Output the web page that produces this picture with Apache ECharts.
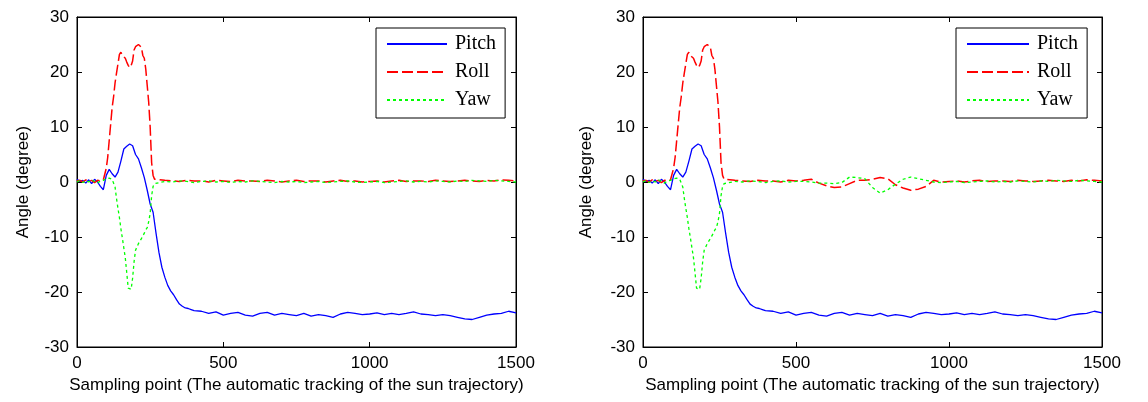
<!DOCTYPE html>
<html>
<head>
<meta charset="utf-8">
<script src="https://cdn.jsdelivr.net/npm/echarts@6/dist/echarts.min.js"></script>
<style>
  html, body { margin: 0; padding: 0; background: #fff; }
  #chart { width: 1148px; height: 402px; }
</style>
</head>
<body>
<div id="chart"></div>
<script>
// 采样点（俯仰角单独一组，横滚/偏航共用一组）
var pitchX = [0,10,20,30,40,50,60,70,80,90,100,110,120,130,140,150,160,170,180,190,200,
  210,220,230,240,250,260,270,280,290,300,310,320,330,340,350,360,370,380,390,400,
  425,450,475,500,525,550,575,600,625,650,675,700,725,750,775,800,825,850,875,900,
  925,950,975,1000,1025,1050,1075,1100,1125,1150,1175,1200,1225,1250,1275,1300,1325,
  1350,1375,1400,1425,1450,1475,1500];
var pitch = [0.5,0.1,0.3,-0.2,0.4,-0.3,0.5,0.0,-0.8,-1.4,1.2,2.3,1.5,0.9,1.8,3.8,6.0,6.5,6.9,6.6,5.0,
  4.2,2.6,0.8,-1.5,-4.0,-5.5,-9.3,-12.8,-15.5,-17.3,-18.8,-19.8,-20.5,-21.4,-22.2,-22.6,-22.9,-23.0,-23.2,-23.4,
  -23.5,-23.9,-23.6,-24.2,-23.9,-23.7,-24.2,-24.4,-23.9,-23.7,-24.2,-23.9,-24.1,-24.3,-23.9,-24.4,-24.1,-24.3,-24.6,-24.0,
  -23.7,-23.9,-24.1,-24.0,-23.8,-24.1,-23.9,-24.1,-23.9,-23.6,-24.0,-24.1,-24.3,-24.1,-24.3,-24.6,-24.9,
  -25.0,-24.6,-24.2,-24.0,-23.9,-23.5,-23.8];

var sampleX = [0,10,20,30,40,50,60,70,80,90,
  95,100,105,110,115,120,125,130,135,140,145,150,155,160,165,170,175,180,185,190,
  195,200,205,210,215,220,225,230,235,240,245,250,255,260,265,270,
  300,325,350,375,400,425,450,475,500,525,550,575,600,625,650,675,700,725,750,
  775,800,825,850,875,900,925,950,975,1000,1025,1050,1075,1100,1125,1150,1175,1200,1225,1250,
  1275,1300,1325,1350,1375,1400,1425,1450,1475,1500];

var rollEarly = [0.2,0.3,0.0,0.4,0.1,0.3,-0.1,0.3,0.2,0.4,
  0.6,2.5,4.5,7.5,10.5,13.5,15.5,18.0,19.8,21.5,23.2,23.6,23.0,23.2,22.5,21.8,21.2,20.8,21.2,22.0,
  24.0,24.6,24.3,25.0,25.0,24.5,23.0,22.5,20.5,17.5,14.5,10.0,3.5,1.2,0.5,0.3];
var rollLateLeft = [0.3,0.2,0.1,0.3,0.2,0.2,0.0,0.3,0.2,0.1,0.3,0.2,0.2,0.1,0.3,0.2,0.0,0.2,0.3,
  0.1,0.2,0.2,0.0,0.2,0.3,0.1,0.2,0.0,0.1,0.2,0.0,0.2,0.3,0.1,0.2,0.2,0.1,0.3,0.2,
  0.1,0.2,0.3,0.2,0.1,0.3,0.2,0.4,0.3,0.2];
var rollLateRight = [0.3,0.2,0.1,0.3,0.2,0.2,0.0,0.3,0.2,0.3,0.5,-0.2,-0.7,-1.0,-0.9,-0.3,0.3,0.3,0.5,
  0.8,0.6,-0.5,-1.1,-1.5,-1.3,-0.8,0.3,0.0,0.1,0.2,0.0,0.2,0.3,0.1,0.2,0.2,0.1,0.3,0.2,
  0.1,0.2,0.3,0.2,0.1,0.3,0.2,0.4,0.3,0.2];

var yawEarly = [0.0,0.3,-0.1,0.2,0.0,0.4,0.1,-0.2,0.2,0.3,
  0.5,0.6,0.5,0.7,0.6,0.5,0.2,-0.9,-3.0,-4.8,-6.5,-8.5,-10.2,-12.0,-13.8,-16.5,-19.3,-19.6,-19.5,-17.5,
  -14.5,-12.4,-11.8,-11.2,-10.9,-10.3,-9.8,-9.3,-8.7,-8.3,-7.2,-5.7,-2.5,-0.8,-0.3,0.0];
var yawLateLeft = [0.1,0.0,0.2,0.1,-0.1,0.1,0.2,0.0,0.1,-0.1,0.1,0.0,0.2,0.1,0.0,-0.1,0.1,0.0,0.1,
  -0.1,0.0,0.1,-0.1,0.0,0.1,0.2,0.0,-0.1,0.0,0.1,-0.1,0.0,0.1,0.2,0.0,0.1,0.0,0.2,0.1,
  0.0,0.2,0.1,0.3,0.2,0.1,0.3,0.2,0.1,0.0];
var yawLateRight = [0.1,0.0,0.2,0.1,-0.1,0.1,0.2,0.0,0.1,0.1,0.0,-0.2,-0.2,-0.3,-0.1,0.9,0.8,0.6,-1.0,
  -2.0,-1.4,-0.4,0.5,0.9,0.6,0.3,0.0,-0.1,0.0,0.1,-0.1,0.0,0.1,0.2,0.0,0.1,0.0,0.2,0.1,
  0.0,0.2,0.1,0.3,0.2,0.1,0.3,0.2,0.1,0.0];

var xTicks = { min: 0, max: 1500, interval: 500 };
var yTicks = { min: -30, max: 30, interval: 10 };
var legendNames = ['Pitch', 'Roll', 'Yaw'];

function pairs(xs, ys) {
  var out = [];
  for (var i = 0; i < xs.length; i++) out.push([xs[i], ys[i]]);
  return out;
}

var dom = document.getElementById('chart');
var myChart = echarts.init(dom, null, { renderer: 'canvas' });

var sans = 'Liberation Sans, Arial, sans-serif';
var axisBase = {
  axisLine: { show: true, onZero: false, lineStyle: { color: '#000', width: 1 } },
  axisTick: { show: true, inside: true, length: 5, lineStyle: { color: '#000' } },
  splitLine: { show: false }
};

function xAxisFor(grid, pos, name) {
  return Object.assign({}, axisBase, {
    type: 'value', gridIndex: grid, position: pos,
    min: xTicks.min, max: xTicks.max, interval: xTicks.interval,
    name: name || '', nameLocation: 'middle', nameGap: 27,
    nameTextStyle: { fontFamily: sans, fontSize: 17, color: '#000' },
    axisLabel: {
      show: pos === 'bottom', margin: 8, fontFamily: sans, fontSize: 17, color: '#000',
      formatter: function (v) { return String(v); }
    }
  });
}
function yAxisFor(grid, pos, gap) {
  return Object.assign({}, axisBase, {
    type: 'value', gridIndex: grid, position: pos,
    min: yTicks.min, max: yTicks.max, interval: yTicks.interval,
    name: pos === 'left' ? 'Angle (degree)' : '', nameLocation: 'middle', nameGap: gap,
    nameTextStyle: { fontFamily: sans, fontSize: 17, color: '#000' },
    axisLabel: { show: pos === 'left', margin: 8, fontFamily: sans, fontSize: 17, color: '#000' }
  });
}

function lineSeries(name, data, xi, yi, color, type, w) {
  return {
    name: name, type: 'line', data: data, xAxisIndex: xi, yAxisIndex: yi,
    symbol: 'none', showSymbol: false, animation: false,
    itemStyle: { color: color },
    lineStyle: { color: color, width: w, type: type }
  };
}

function legendAt(left, iconW) {
  return {
    orient: 'vertical', left: left, top: 28,
    padding: [6, 9, 8, 10], itemWidth: iconW, itemHeight: 14, itemGap: 8,
    borderColor: '#000', borderWidth: 1, backgroundColor: '#fff',
    itemStyle: { opacity: 0 },
    textStyle: { fontFamily: 'Liberation Serif, Times New Roman, serif', fontSize: 20, color: '#000', padding: [0, 0, 0, 3] },
    data: legendNames
  };
}

var xName = 'Sampling point (The automatic tracking of the sun trajectory)';

var option = {
  backgroundColor: '#fff',
  animation: false,
  grid: [
    { left: 77, top: 17, width: 439, height: 330, show: true, borderColor: '#000', borderWidth: 1 },
    { left: 643, top: 17, width: 459, height: 330, show: true, borderColor: '#000', borderWidth: 1 }
  ],
  xAxis: [xAxisFor(0, 'bottom', xName), xAxisFor(0, 'top'), xAxisFor(1, 'bottom', xName), xAxisFor(1, 'top')],
  yAxis: [yAxisFor(0, 'left', 45), yAxisFor(0, 'right', 0), yAxisFor(1, 'left', 48), yAxisFor(1, 'right', 0)],
  legend: [legendAt(376, 60), legendAt(956, 62)],
  series: [
    lineSeries('Pitch', pairs(pitchX, pitch), 0, 0, '#0000ff', 'solid', 1.3),
    lineSeries('Roll', pairs(sampleX, rollEarly.concat(rollLateLeft)), 0, 0, '#ff0000', [11, 4], 1.5),
    lineSeries('Yaw', pairs(sampleX, yawEarly.concat(yawLateLeft)), 0, 0, '#00ff00', [3, 3], 1.3),
    lineSeries('Pitch', pairs(pitchX, pitch), 2, 2, '#0000ff', 'solid', 1.3),
    lineSeries('Roll', pairs(sampleX, rollEarly.concat(rollLateRight)), 2, 2, '#ff0000', [11, 4], 1.5),
    lineSeries('Yaw', pairs(sampleX, yawEarly.concat(yawLateRight)), 2, 2, '#00ff00', [3, 3], 1.3)
  ]
};

myChart.setOption(option);
window.addEventListener('resize', myChart.resize);
</script>
</body>
</html>
